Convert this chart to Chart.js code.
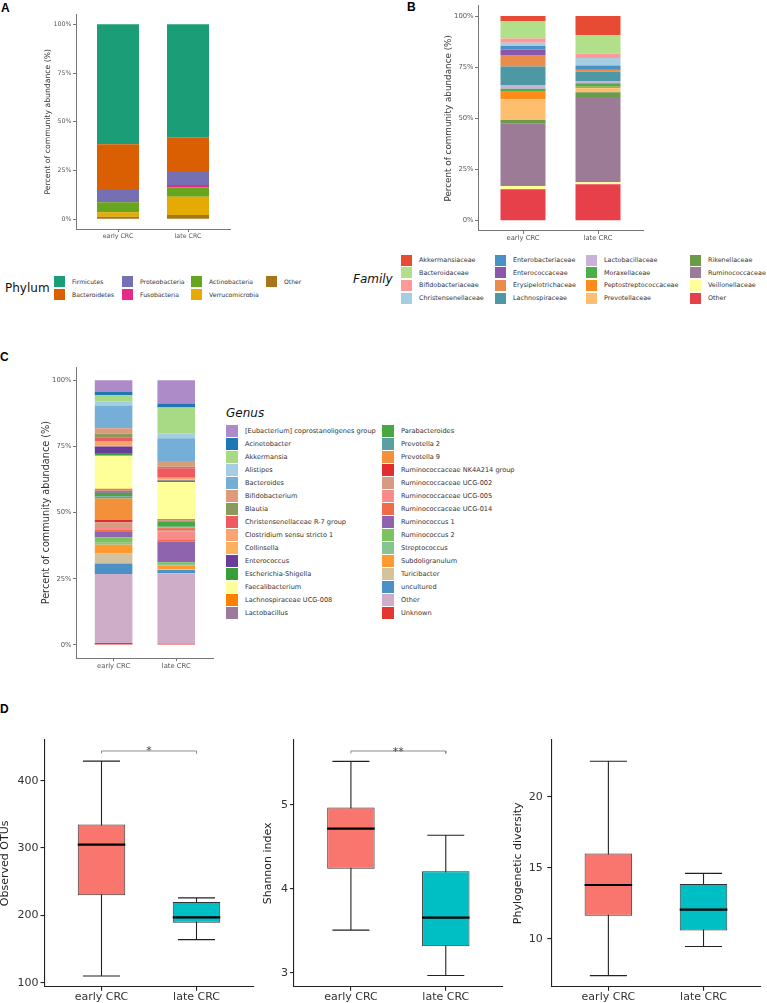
<!DOCTYPE html>
<html><head><meta charset="utf-8">
<script src="https://cdn.jsdelivr.net/npm/chart.js@4.4.1/dist/chart.umd.min.js"></script>
<style>
html,body{margin:0;padding:0;background:#fff;}
body{width:767px;height:1003px;position:relative;overflow:hidden;font-family:'DejaVu Sans',sans-serif;}
canvas{position:absolute;}
.plabel{position:absolute;font-family:'Liberation Sans',Arial,sans-serif;font-weight:bold;font-size:12px;line-height:1;color:#000;}
.lg{position:absolute;white-space:nowrap;color:#333;line-height:1;font-family:'DejaVu Sans',sans-serif;}
.lgt{position:absolute;white-space:nowrap;color:#111;line-height:1;font-family:'DejaVu Sans',sans-serif;font-size:12px;}
.key{position:absolute;left:0;top:0;}
</style></head><body>
<div class="plabel" style="left:1px;top:2px">A</div>
<div class="plabel" style="left:407px;top:1px">B</div>
<div class="plabel" style="left:0px;top:351px">C</div>
<div class="plabel" style="left:0px;top:703px">D</div>
<script>
// ---------------- DATA ----------------
const stages = ['early CRC', 'late CRC'];
const percentTicks = [0, 25, 50, 75, 100];

const phylum = ['Firmicutes','Bacteroidetes','Proteobacteria','Fusobacteria','Actinobacteria','Verrucomicrobia','Other'];
const phylumEarly = [61.5, 23.5, 6.1, 0.2, 5.1, 2.3, 1.3];
const phylumLate  = [58.0, 17.2, 7.2, 1.2, 4.8, 9.4, 2.2];

const family = ['Akkermansiaceae','Bacteroidaceae','Bifidobacteriaceae','Christensenellaceae',
  'Enterobacteriaceae','Enterococcaceae','Erysipelotrichaceae','Lachnospiraceae',
  'Lactobacillaceae','Moraxellaceae','Peptostreptococcaceae','Prevotellaceae',
  'Rikenellaceae','Ruminococcaceae','Veillonellaceae','Other'];
const familyEarly = [2.4, 8.6, 2.1, 1.5, 1.8, 2.6, 5.7, 9.0, 1.8, 1.5, 3.7, 10.1, 1.6, 30.6, 1.6, 15.4];
const familyLate  = [9.4, 9.0, 2.1, 3.7, 2.0, 0.2, 0.8, 4.6, 1.1, 1.6, 0.8, 2.0, 2.3, 41.6, 1.0, 17.8];

const genus = ['[Eubacterium] coprostanoligenes group','Acinetobacter','Akkermansia','Alistipes','Bacteroides',
  'Bifidobacterium','Blautia','Christensenellaceae R-7 group','Clostridium sensu stricto 1','Collinsella',
  'Enterococcus','Escherichia-Shigella','Faecalibacterium','Lachnospiraceae UCG-008','Lactobacillus',
  'Parabacteroides','Prevotella 2','Prevotella 9','Ruminococcaceae NK4A214 group','Ruminococcaceae UCG-002',
  'Ruminococcaceae UCG-005','Ruminococcaceae UCG-014','Ruminococcus 1','Ruminococcus 2','Streptococcus',
  'Subdoligranulum','Turicibacter','uncultured','Other','Unknown'];
const genusEarly = [4.4, 1.1, 2.4, 1.6, 8.6, 2.1, 1.3, 1.4, 1.5, 0.6,
  2.5, 1.0, 12.5, 0.6, 1.0, 1.3, 0.8, 8.0, 0.9, 2.2,
  0.8, 0.4, 2.4, 2.0, 0.7, 3.3, 3.8, 4.0, 26.1, 0.7];
const genusLate = [8.8, 1.5, 9.7, 1.9, 8.6, 2.2, 0.5, 3.6, 0.6, 0.4,
  0.1, 0.5, 14.0, 0.6, 0.4, 1.9, 0.3, 0.4, 0.5, 0.5,
  3.3, 0.6, 7.8, 0.7, 0.6, 1.5, 0.2, 1.2, 26.6, 0.5];

// boxplot stats: [lower whisker, Q1, median, Q3, upper whisker]
const otuEarly = [110, 230, 305, 335, 429];
const otuLate  = [164, 189, 197, 220, 226];
const otuTicks = [100, 200, 300, 400];
const shannonEarly = [3.51, 4.24, 4.72, 4.97, 5.52];
const shannonLate  = [2.97, 3.32, 3.66, 4.21, 4.64];
const shannonTicks = [3, 4, 5];
const pdEarly = [7.4, 11.62, 13.78, 15.99, 22.49];
const pdLate  = [9.45, 10.58, 12.05, 13.85, 14.6];
const pdTicks = [10, 15, 20];
const otuBracket = 444.1, otuSignif = '*';
const shannonBracket = 5.643, shannonSignif = '**';

// ---------------- STYLES ----------------
const phylumColors = ['#1B9E77','#D95F02','#7570B3','#E7298A','#66A61E','#E6AB02','#A6761D'];
const familyColors = ['#E84B33','#B2DF8A','#FB9A99','#A6CEE3','#4A91C5','#8A57AD','#EA8D4B','#4E98A5',
  '#CAB2D6','#4DAF4A','#FF8C1A','#FDBF6F','#6B9A4B','#9C7B97','#FFFF99','#E8404A'];
const genusColors = ['#AD8BC9','#1F78B4','#A8DA86','#A6CEE3','#75AED6','#DE9B7C','#8A9A5B','#EE5A60','#F9A36E','#FDB15F',
  '#6A3D9A','#3A9F3A','#FFFF99','#FF7F00','#9C7A9A','#47A843','#5B9FA2','#F3903A','#E32C2F','#D69B80',
  '#F98A8A','#F06B48','#8F64AF','#7BC35F','#88C48F','#FE9A30','#D3C29E','#4B91C5','#CEADC8','#E43531'];
const boxColors = ['#F8766D', '#00BFC4'];

Chart.defaults.font.family = "'DejaVu Sans', sans-serif";
Chart.defaults.animation = false;

function makeCanvas(box) {
  const c = document.createElement('canvas');
  c.width = box.w; c.height = box.h;
  c.style.left = box.x + 'px'; c.style.top = box.y + 'px';
  c.style.width = box.w + 'px'; c.style.height = box.h + 'px';
  document.body.appendChild(c);
  return c;
}

function scalesFor(box, area, s) {
  const yW = area.l - box.x, xH = box.y + box.h - area.b;
  const titlePad = Math.max(0, s.titleX - box.x - s.titleSize / 2);
  return {
    x: {
      type: 'linear', min: 0.4, max: 2.6, offset: false, bounds: 'data', stacked: s.stacked,
      afterBuildTicks: sc => { sc.ticks = stages.map((_, i) => ({value: i + 1})); },
      afterFit: sc => { sc.height = xH; },
      ticks: {autoSkip: false, maxRotation: 0, minRotation: 0, padding: s.xPad, color: s.tickColor,
        font: {size: s.tickSize}, callback: v => stages[Math.round(v) - 1]},
      grid: {offset: false, drawOnChartArea: false, drawTicks: true, tickLength: s.tickLen,
        color: s.axisColor, lineWidth: s.axisWidth},
      border: {display: true, color: s.axisColor, width: s.axisWidth}
    },
    y: {
      type: 'linear', min: s.yMin, max: s.yMax, bounds: 'data', stacked: s.stacked,
      afterBuildTicks: sc => { sc.ticks = s.yTicks.map(v => ({value: v})); },
      afterFit: sc => { sc.width = yW; },
      ticks: {autoSkip: false, padding: s.yPad, color: s.tickColor, font: {size: s.tickSize}, callback: s.fmt},
      grid: {drawOnChartArea: false, drawTicks: true, tickLength: s.tickLen, color: s.axisColor, lineWidth: s.axisWidth},
      border: {display: true, color: s.axisColor, width: s.axisWidth},
      title: {display: true, text: s.title, color: s.titleColor,
        font: {size: s.titleSize, lineHeight: 1}, padding: {top: titlePad, bottom: 0}}
    }
  };
}

function layoutFor(box, area) {
  return {padding: {left: 0, bottom: 0, top: area.t - box.y, right: box.x + box.w - area.r}};
}

function stackedChart(box, area, names, early, late, colors, s) {
  const datasets = names.map((n, i) => ({
    label: n, data: [{x: 1, y: early[i]}, {x: 2, y: late[i]}],
    backgroundColor: colors[i], borderWidth: 0, barPercentage: 0.6, categoryPercentage: 1
  })).reverse();
  new Chart(makeCanvas(box), {
    type: 'bar',
    data: {datasets},
    options: {
      responsive: false, animation: false, devicePixelRatio: 1, events: [],
      layout: layoutFor(box, area),
      plugins: {legend: {display: false}, tooltip: {enabled: false}},
      scales: scalesFor(box, area, Object.assign({stacked: true, yMin: -5, yMax: 105, yTicks: percentTicks,
        fmt: v => v + '%', tickColor: '#555', axisColor: '#777', axisWidth: 1, tickLen: 3, yPad: 1.5, xPad: 1,
        title: 'Percent of community abundance (%)', titleColor: '#333'}, s))
    }
  });
}

const signifPlugin = {
  id: 'signif',
  afterDatasetsDraw(chart, args, opts) {
    if (!opts.text) return;
    const {ctx, scales: {x, y}} = chart;
    ctx.save();
    ctx.fillStyle = '#444';
    ctx.font = "11px 'DejaVu Sans'";
    ctx.textAlign = 'center';
    ctx.textBaseline = 'alphabetic';
    ctx.fillText(opts.text, x.getPixelForValue(1.5), y.getPixelForValue(opts.y) + 3.5);
    ctx.restore();
  }
};

function boxChart(box, area, stats, s, bracket, signif) {
  const capW = 0.39, boxW = 0.5;
  const whisk = [], med = [];
  stats.forEach((st, i) => {
    const x = i + 1;
    whisk.push({x, y: st[0]}, {x, y: st[4]}, {x, y: null},
      {x: x - capW / 2, y: st[0]}, {x: x + capW / 2, y: st[0]}, {x, y: null},
      {x: x - capW / 2, y: st[4]}, {x: x + capW / 2, y: st[4]}, {x, y: null});
    med.push({x: x - boxW / 2, y: st[2]}, {x: x + boxW / 2, y: st[2]}, {x, y: null});
  });
  const datasets = [
    {type: 'line', data: whisk, borderColor: '#222', borderWidth: 1.1, pointRadius: 0, fill: false, spanGaps: false, order: 3},
    {type: 'bar', data: stats.map((st, i) => ({x: i + 1, y: [st[1], st[3]]})), backgroundColor: boxColors,
      borderColor: '#333', borderWidth: 1, borderSkipped: false, barPercentage: boxW, categoryPercentage: 1, order: 2},
    {type: 'line', data: med, borderColor: '#000', borderWidth: 2.2, borderCapStyle: 'butt', pointRadius: 0, fill: false, spanGaps: false, order: 1}
  ];
  if (bracket != null) {
    const tick = (s.yMax - s.yMin) * 0.01;
    datasets.push({type: 'line', data: [{x: 1, y: bracket - tick}, {x: 1, y: bracket}, {x: 2, y: bracket}, {x: 2, y: bracket - tick}],
      borderColor: '#8c8c8c', borderWidth: 1, pointRadius: 0, fill: false, order: 0});
  }
  new Chart(makeCanvas(box), {
    type: 'bar',
    data: {datasets},
    plugins: [signifPlugin],
    options: {
      responsive: false, animation: false, devicePixelRatio: 1, events: [],
      layout: layoutFor(box, area),
      plugins: {legend: {display: false}, tooltip: {enabled: false}, signif: {text: signif, y: bracket}},
      scales: scalesFor(box, area, Object.assign({stacked: false, fmt: v => String(v), tickColor: '#333',
        axisColor: '#222', axisWidth: 1.1, tickLen: 4, yPad: 2, xPad: 0, tickSize: 11, titleSize: 11, titleColor: '#222'}, s))
    }
  });
}

function legend(names, colors, o) {
  names.forEach((n, i) => {
    const c = Math.floor(i / o.perCol), r = i % o.perCol;
    const item = document.createElement('div');
    item.className = 'lg';
    item.style.left = o.cols[c] + 'px';
    item.style.top = (o.top0 + r * o.pitch) + 'px';
    item.style.height = o.key + 'px';
    item.style.fontSize = o.font + 'px';
    const k = document.createElement('span');
    k.className = 'key';
    k.style.width = o.key + 'px'; k.style.height = o.key + 'px'; k.style.background = colors[i];
    const t = document.createElement('span');
    t.style.position = 'absolute'; t.style.left = o.dx + 'px'; t.style.top = '50%';
    t.style.transform = 'translateY(-50%)';
    t.textContent = n;
    item.appendChild(k); item.appendChild(t);
    document.body.appendChild(item);
  });
  const tt = document.createElement('div');
  tt.className = 'lgt';
  tt.textContent = o.title;
  tt.style.left = o.titleX + 'px';
  tt.style.top = (o.titleY - 6) + 'px';
  if (o.italic) tt.style.fontStyle = 'italic';
  document.body.appendChild(tt);
}

// ---------------- PANELS ----------------
stackedChart({x: 40, y: 4, w: 200, h: 242}, {l: 76, t: 14.5, r: 230, b: 229},
  phylum, phylumEarly, phylumLate, phylumColors, {tickSize: 6.3, titleSize: 7.7, titleX: 48.5});
stackedChart({x: 436, y: 0, w: 224, h: 246}, {l: 478, t: 5.8, r: 643, b: 230.9},
  family, familyEarly, familyLate, familyColors, {tickSize: 6.8, titleSize: 8.8, titleX: 448.5, xPad: 0});
stackedChart({x: 36, y: 358, w: 189, h: 317}, {l: 76, t: 367.1, r: 213.8, b: 658.2},
  genus, genusEarly, genusLate, genusColors, {tickSize: 6.8, titleSize: 9.7, titleX: 46.7});

legend(phylum, phylumColors, {cols: [54, 122, 191, 266], dx: 18, top0: 276, pitch: 13, perCol: 2, key: 11, font: 6.1,
  title: 'Phylum', titleX: 5, titleY: 288, italic: false});
legend(family, familyColors, {cols: [401, 495, 586, 690], dx: 18, top0: 254.5, pitch: 12.67, perCol: 4, key: 11.3, font: 6.4,
  title: 'Family', titleX: 353, titleY: 279, italic: true});
legend(genus, genusColors, {cols: [226, 382], dx: 19, top0: 424.5, pitch: 13.05, perCol: 15, key: 12.3, font: 6.6,
  title: 'Genus', titleX: 226, titleY: 412.5, italic: true});

boxChart({x: 0, y: 728, w: 262, h: 275}, {l: 44.5, t: 740, r: 253.5, b: 986.7}, [otuEarly, otuLate],
  {yMin: 94.1, yMax: 460.4, yTicks: otuTicks, title: 'Observed OTUs', titleX: 5}, otuBracket, otuSignif);
boxChart({x: 262, y: 728, w: 250, h: 275}, {l: 294, t: 740, r: 502.7, b: 986.7}, [shannonEarly, shannonLate],
  {yMin: 2.837, yMax: 5.774, yTicks: shannonTicks, title: 'Shannon index', titleX: 268.3}, shannonBracket, shannonSignif);
boxChart({x: 512, y: 728, w: 255, h: 275}, {l: 551.3, t: 740, r: 760.6, b: 986.7}, [pdEarly, pdLate],
  {yMin: 6.62, yMax: 23.99, yTicks: pdTicks, title: 'Phylogenetic diversity', titleX: 518.3, yPad: 4.5}, null, null);
</script>
</body></html>
